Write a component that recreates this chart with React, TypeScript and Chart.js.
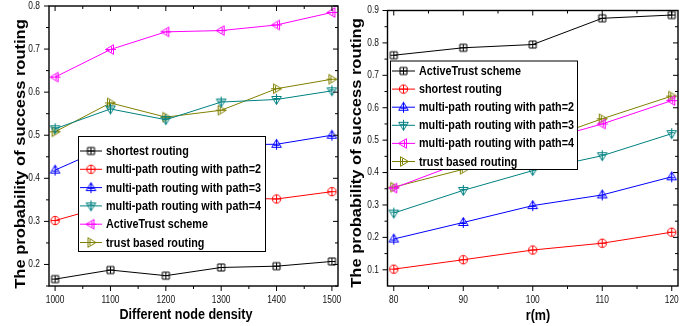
import React, { useEffect, useRef } from "react";
import { Chart, registerables } from "chart.js";

Chart.register(...registerables);

// ---------------- data (left panel: node density) ----------------
const densityCategories = [1000, 1100, 1200, 1300, 1400, 1500];
const densityXTicks = [1000, 1100, 1200, 1300, 1400, 1500];
const densityYTicks = [0.2, 0.3, 0.4, 0.5, 0.6, 0.7, 0.8];
const densityLabels = [
  "shortest routing",
  "multi-path routing with path=2",
  "multi-path routing with path=3",
  "multi-path routing with path=4",
  "ActiveTrust scheme",
  "trust based routing",
];
const densityShortest = [0.166, 0.187, 0.174, 0.193, 0.196, 0.207];
const densityPath2 = [0.302, 0.338, 0.335, 0.355, 0.352, 0.369];
const densityPath3 = [0.419, 0.476, 0.462, 0.478, 0.479, 0.5];
const densityPath4 = [0.515, 0.561, 0.536, 0.577, 0.583, 0.603];
const densityActiveTrust = [0.635, 0.699, 0.74, 0.743, 0.756, 0.785];
const densityTrust = [0.508, 0.575, 0.542, 0.558, 0.608, 0.63];

// ---------------- data (right panel: r(m)) ----------------
const radiusCategories = [80, 90, 100, 110, 120];
const radiusXTicks = [80, 90, 100, 110, 120];
const radiusYTicks = [0.1, 0.2, 0.3, 0.4, 0.5, 0.6, 0.7, 0.8, 0.9];
const radiusLabels = [
  "ActiveTrust scheme",
  "shortest routing",
  "multi-path routing with path=2",
  "multi-path routing with path=3",
  "multi-path routing with path=4",
  "trust based routing",
];
const radiusActiveTrust = [0.762, 0.785, 0.795, 0.876, 0.886];
const radiusShortest = [0.102, 0.131, 0.161, 0.182, 0.216];
const radiusPath2 = [0.195, 0.246, 0.298, 0.331, 0.387];
const radiusPath3 = [0.275, 0.345, 0.406, 0.452, 0.52];
const radiusPath4 = [0.352, 0.433, 0.49, 0.55, 0.622];
const radiusTrust = [0.355, 0.41, 0.49, 0.566, 0.636];

const seriesColors = ["#000000", "#ff0000", "#0000ff", "#008080", "#ff00ff", "#808000"];
const seriesMarkers = ["square", "circle", "up", "down", "left", "right"];

const SANS = "'Liberation Sans', Arial, sans-serif";

function makeMarker(shape: string, color: string): HTMLCanvasElement {
  const c = document.createElement("canvas");
  c.width = 13;
  c.height = 13;
  const g = c.getContext("2d")!;
  g.strokeStyle = color;
  g.lineWidth = 1;
  g.translate(6.5, 6.5);
  g.beginPath();
  if (shape === "square") {
    g.rect(-3.5, -3.5, 7, 7);
    g.moveTo(0, -3.5); g.lineTo(0, 3.5);
    g.moveTo(-3.5, 0); g.lineTo(3.5, 0);
  } else if (shape === "circle") {
    g.arc(0, 0, 4.2, 0, Math.PI * 2);
    g.moveTo(0, -4.2); g.lineTo(0, 4.2);
    g.moveTo(-4.2, 0); g.lineTo(4.2, 0);
  } else if (shape === "up") {
    g.moveTo(0, -5); g.lineTo(4.8, 3); g.lineTo(-4.8, 3); g.closePath();
    g.moveTo(0, -5); g.lineTo(0, 5.5);
    g.moveTo(-3, 1); g.lineTo(3, 1);
  } else if (shape === "down") {
    g.moveTo(0, 5); g.lineTo(4.8, -3); g.lineTo(-4.8, -3); g.closePath();
    g.moveTo(0, 5); g.lineTo(0, -5.5);
    g.moveTo(-3, -1); g.lineTo(3, -1);
  } else if (shape === "left") {
    g.moveTo(-5, 0); g.lineTo(3, -4.8); g.lineTo(3, 4.8); g.closePath();
    g.moveTo(-5, 0); g.lineTo(5.5, 0);
    g.moveTo(1, -3); g.lineTo(1, 3);
  } else {
    g.moveTo(5, 0); g.lineTo(-3, -4.8); g.lineTo(-3, 4.8); g.closePath();
    g.moveTo(5, 0); g.lineTo(-5.5, 0);
    g.moveTo(-1, -3); g.lineTo(-1, 3);
  }
  g.stroke();
  return c;
}

type PanelCfg = {
  canvasW: number;
  chartLeft: number;
  chartRight: number;
  chartTop: number;
  chartBottom: number;
  xMin: number;
  xMax: number;
  yMin: number;
  yMax: number;
  xValues: number[];
  xTicks: number[];
  yTicks: number[];
  labels: string[];
  series: number[][];
  yLabelRight: number;
  xLabelY: number;
  xTitle: string;
  xTitlePos: [number, number];
  yTitle: string;
  yTitlePos: [number, number];
  legend: { x: number; y: number; w: number; h: number; row0: number; gap: number; l0: number; l1: number; tx: number };
};

// text squeezed horizontally to mimic the condensed look of the original
function narrowText(ctx: CanvasRenderingContext2D, text: string, x: number, y: number, sx: number, align: CanvasTextAlign) {
  ctx.save();
  ctx.translate(x, y);
  ctx.scale(sx, 1);
  ctx.textAlign = align;
  ctx.fillText(text, 0, 0);
  ctx.restore();
}

const originPlugin = {
  id: "originFrame",
  afterDatasetsDraw(chart: any, _args: any, opts: any) {
    const p: PanelCfg = opts.cfg;
    const { ctx, chartArea: a } = chart;
    const xs = chart.scales.x;
    const ys = chart.scales.y;
    ctx.save();
    ctx.strokeStyle = "#000";
    // frame
    ctx.lineWidth = 1.4;
    ctx.strokeRect(a.left, a.top, a.right - a.left, a.bottom - a.top);
    ctx.lineWidth = 1;
    const minorOf = (ticks: number[], lo: number, hi: number) => {
      const step = ticks[1] - ticks[0];
      const out: number[] = [];
      const cand = [ticks[0] - step / 2, ...ticks.map((t) => t + step / 2)];
      cand.forEach((v) => { if (v > lo && v < hi) out.push(v); });
      return out;
    };
    ctx.beginPath();
    p.yTicks.forEach((v) => {
      const y = ys.getPixelForValue(v);
      ctx.moveTo(a.left - 5, y); ctx.lineTo(a.left, y);
      ctx.moveTo(a.right - 5, y); ctx.lineTo(a.right, y);
    });
    minorOf(p.yTicks, p.yMin, p.yMax).forEach((v) => {
      const y = ys.getPixelForValue(v);
      ctx.moveTo(a.left - 3, y); ctx.lineTo(a.left, y);
      ctx.moveTo(a.right - 3, y); ctx.lineTo(a.right, y);
    });
    p.xTicks.forEach((v) => {
      const x = xs.getPixelForValue(v);
      ctx.moveTo(x, a.bottom); ctx.lineTo(x, a.bottom + 5);
      ctx.moveTo(x, a.top); ctx.lineTo(x, a.top + 5);
    });
    minorOf(p.xTicks, p.xMin, p.xMax).forEach((v) => {
      const x = xs.getPixelForValue(v);
      ctx.moveTo(x, a.bottom); ctx.lineTo(x, a.bottom + 3);
      ctx.moveTo(x, a.top); ctx.lineTo(x, a.top + 3);
    });
    ctx.stroke();

    // tick labels (positions from the chart's scales)
    ctx.fillStyle = "#111";
    ctx.textBaseline = "middle";
    ctx.font = `10.5px ${SANS}`;
    p.yTicks.forEach((v) => {
      narrowText(ctx, v.toFixed(1), p.yLabelRight, ys.getPixelForValue(v), 0.8, "right");
    });
    p.xTicks.forEach((v) => {
      narrowText(ctx, String(v), xs.getPixelForValue(v), p.xLabelY, 0.8, "center");
    });

    // axis titles
    ctx.fillStyle = "#000";
    ctx.font = `bold 15px ${SANS}`;
    narrowText(ctx, p.xTitle, p.xTitlePos[0], p.xTitlePos[1], 0.84, "center");
    ctx.save();
    ctx.translate(p.yTitlePos[0], p.yTitlePos[1]);
    ctx.rotate(-Math.PI / 2);
    ctx.scale(1, 0.88);
    ctx.textAlign = "center";
    ctx.font = `bold 16.5px ${SANS}`;
    ctx.fillText(p.yTitle, 0, 0);
    ctx.restore();

    // legend box
    const L = p.legend;
    ctx.fillStyle = "#fff";
    ctx.fillRect(L.x, L.y, L.w, L.h);
    ctx.strokeStyle = "#000";
    ctx.lineWidth = 1;
    ctx.strokeRect(L.x + 0.5, L.y + 0.5, L.w, L.h);
    ctx.font = `bold 13px ${SANS}`;
    ctx.textBaseline = "middle";
    chart.data.datasets.forEach((ds: any, i: number) => {
      const y = L.row0 + i * L.gap;
      ctx.strokeStyle = ds.borderColor;
      ctx.beginPath();
      ctx.moveTo(L.l0, y);
      ctx.lineTo(L.l1, y);
      ctx.stroke();
      const m = ds.pointStyle as HTMLCanvasElement;
      ctx.drawImage(m, (L.l0 + L.l1) / 2 - m.width / 2, y - m.height / 2);
      ctx.fillStyle = "#000";
      narrowText(ctx, ds.label, L.tx, y + 0.5, 0.83, "left");
    });
    ctx.restore();
  },
};

function buildConfig(p: PanelCfg): any {
  return {
    type: "line",
    data: {
      datasets: p.series.map((vals, i) => ({
        label: p.labels[i],
        data: p.xValues.map((x, j) => ({ x, y: vals[j] })),
        borderColor: seriesColors[i],
        backgroundColor: "transparent",
        borderWidth: 1,
        pointStyle: makeMarker(seriesMarkers[i], seriesColors[i]),
        pointRadius: 5,
        fill: false,
        tension: 0,
        clip: false,
      })),
    },
    options: {
      animation: false,
      responsive: false,
      events: [],
      layout: { padding: { left: 0, top: p.chartTop, right: p.canvasW - p.chartRight, bottom: 0 } },
      plugins: {
        legend: { display: false },
        tooltip: { enabled: false },
        originFrame: { cfg: p },
      },
      scales: {
        x: {
          type: "linear",
          min: p.xMin,
          max: p.xMax,
          afterBuildTicks: (s: any) => { s.ticks = p.xTicks.map((v) => ({ value: v })); },
          grid: { display: false, drawTicks: false },
          border: { display: false },
          ticks: { display: false },
          afterFit: (s: any) => { s.height = 326 - p.chartBottom; s.paddingLeft = 0; s.paddingRight = 0; },
        },
        y: {
          type: "linear",
          min: p.yMin,
          max: p.yMax,
          afterBuildTicks: (s: any) => { s.ticks = p.yTicks.map((v) => ({ value: v })); },
          grid: { display: false, drawTicks: false },
          border: { display: false },
          ticks: { display: false },
          afterFit: (s: any) => { s.width = p.chartLeft; s.paddingTop = 0; s.paddingBottom = 0; },
        },
      },
    },
    plugins: [originPlugin],
  };
}

const leftPanel: PanelCfg = {
  canvasW: 344,
  chartLeft: 49,
  chartRight: 339,
  chartTop: 4.5,
  chartBottom: 286,
  xMin: 989,
  xMax: 1511,
  yMin: 0.15,
  yMax: 0.8,
  xValues: densityCategories,
  xTicks: densityXTicks,
  yTicks: densityYTicks,
  labels: densityLabels,
  series: [densityShortest, densityPath2, densityPath3, densityPath4, densityActiveTrust, densityTrust],
  yLabelRight: 40,
  xLabelY: 300,
  xTitle: "Different node density",
  xTitlePos: [186, 315],
  yTitle: "The probability of success routing",
  yTitlePos: [20.5, 154],
  legend: { x: 78, y: 136, w: 187, h: 115, row0: 151, gap: 18.3, l0: 80, l1: 102, tx: 106 },
};

const rightPanel: PanelCfg = {
  canvasW: 342,
  chartLeft: 43.5,
  chartRight: 334,
  chartTop: 10.5,
  chartBottom: 286,
  xMin: 79.1,
  xMax: 120.9,
  yMin: 0.05,
  yMax: 0.9,
  xValues: radiusCategories,
  xTicks: radiusXTicks,
  yTicks: radiusYTicks,
  labels: radiusLabels,
  series: [radiusActiveTrust, radiusShortest, radiusPath2, radiusPath3, radiusPath4, radiusTrust],
  yLabelRight: 35,
  xLabelY: 300,
  xTitle: "r(m)",
  xTitlePos: [194, 316],
  yTitle: "The probability of success routing",
  yTitlePos: [13, 153],
  legend: { x: 46, y: 60.5, w: 187, h: 108.5, row0: 71, gap: 18.1, l0: 48, l1: 71, tx: 75 },
};

function Panel({ cfg, left }: { cfg: PanelCfg; left: number }) {
  const ref = useRef<HTMLCanvasElement>(null);
  useEffect(() => {
    const chart = new Chart(ref.current!, buildConfig(cfg));
    return () => chart.destroy();
  }, [cfg]);
  return (
    <canvas
      ref={ref}
      width={cfg.canvasW}
      height={326}
      style={{ position: "absolute", left, top: 0, width: cfg.canvasW, height: 326, display: "block" }}
    />
  );
}

export default function App() {
  return (
    <div style={{ position: "fixed", left: 0, top: 0, width: 686, height: 326, background: "#fff", overflow: "hidden" }}>
      <Panel cfg={leftPanel} left={0} />
      <Panel cfg={rightPanel} left={344} />
    </div>
  );
}
